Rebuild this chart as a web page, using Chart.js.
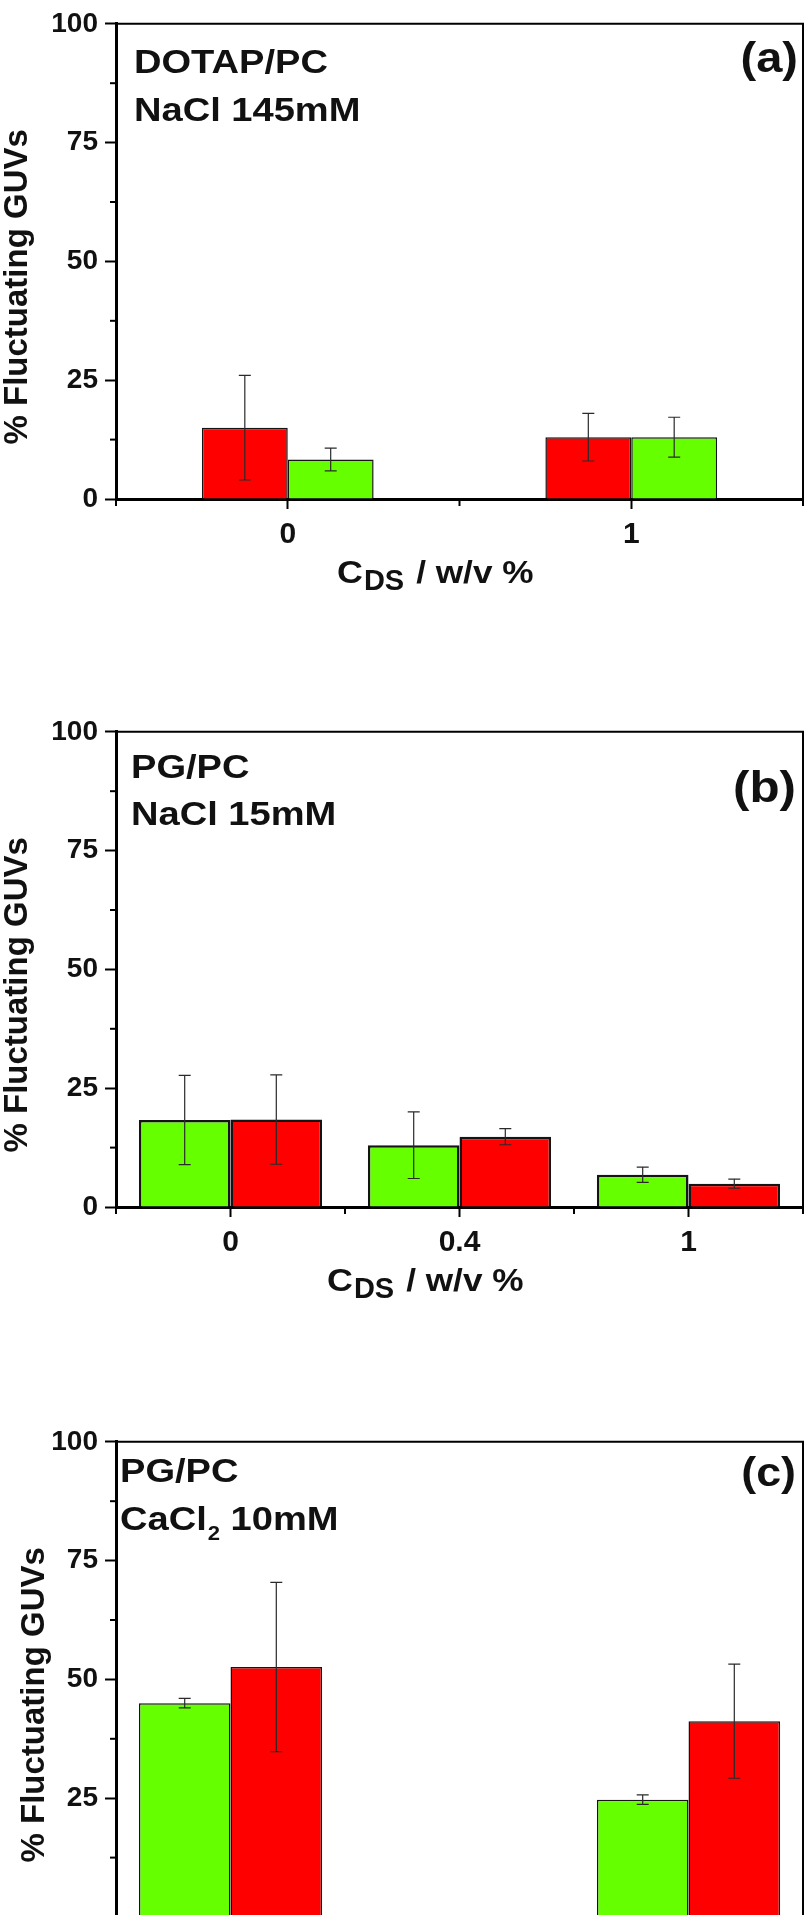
<!DOCTYPE html>
<html>
<head>
<meta charset="utf-8">
<script src="https://cdn.jsdelivr.net/npm/chart.js@4.4.1/dist/chart.umd.min.js"></script>
<style>
  html, body { margin: 0; padding: 0; background: #ffffff; }
  #wrap { position: relative; width: 805px; height: 1915px; overflow: hidden; background: #ffffff; }
  canvas { position: absolute; left: 0; }
</style>
</head>
<body>
<div id="wrap">
  <canvas id="panelA" width="805" height="600" style="top:0px"></canvas>
  <canvas id="panelB" width="805" height="600" style="top:708px"></canvas>
  <canvas id="panelC" width="805" height="600" style="top:1418px"></canvas>
</div>
<script>
// ---------------- DATA ----------------
const yTickValues = [0, 25, 50, 75, 100];

// Panel (a): DOTAP/PC, NaCl 145mM
const panelACategories = ['0', '1'];
const panelARed = [15.0, 13.0];
const panelARedErr = [11.0, 5.0];
const panelAGreen = [8.3, 13.0];
const panelAGreenErr = [2.4, 4.2];

// Panel (b): PG/PC, NaCl 15mM
const panelBCategories = ['0', '0.4', '1'];
const panelBGreen = [18.3, 13.0, 6.8];
const panelBGreenErr = [9.4, 7.0, 1.6];
const panelBRed = [18.4, 14.8, 4.9];
const panelBRedErr = [9.4, 1.7, 0.95];

// Panel (c): PG/PC, CaCl2 10mM (picture is cut just at the 0 line)
const panelCCategories = ['0', '0.4', '1'];
const panelCGreen = [45.0, null, 24.7];
const panelCGreenErr = [1.0, null, 1.0];
const panelCRed = [52.6, null, 41.2];
const panelCRedErr = [17.8, null, 12.0];

const RED = '#ff0000';
const GREEN = '#66ff00';
const INK = '#111111';
const FONT = "'Liberation Sans', Arial, Helvetica, sans-serif";

// ---------------- helpers ----------------
function sText(ctx, str, x, y, size, sx, align) {
  ctx.save();
  ctx.font = 'bold ' + size + 'px ' + FONT;
  ctx.fillStyle = INK;
  ctx.textBaseline = 'alphabetic';
  const w = ctx.measureText(str).width * sx;
  let x0 = x;
  if (align === 'right') x0 = x - w;
  else if (align === 'center') x0 = x - w / 2;
  ctx.translate(x0, y);
  ctx.scale(sx, 1);
  ctx.textAlign = 'left';
  ctx.fillText(str, 0, 0);
  ctx.restore();
  return x0 + w;
}

const decorPlugin = {
  id: 'decor',
  afterDraw(chart, args, opts) {
    const ctx = chart.ctx;
    const ca = chart.chartArea;
    const xs = chart.scales.x;
    const ys = chart.scales.y;
    ctx.save();
    // top and right frame
    ctx.strokeStyle = '#000';
    ctx.lineWidth = 2;
    ctx.beginPath();
    ctx.moveTo(ca.left, ca.top);
    ctx.lineTo(ca.right, ca.top);
    ctx.lineTo(ca.right, ca.bottom + 6);
    ctx.stroke();
    // minor y ticks
    ctx.lineWidth = 2;
    [12.5, 37.5, 62.5, 87.5].forEach(v => {
      const py = ys.getPixelForValue(v);
      ctx.beginPath();
      ctx.moveTo(ca.left - 6, py);
      ctx.lineTo(ca.left, py);
      ctx.stroke();
    });
    // x boundary ticks
    const n = chart.data.labels.length;
    const bounds = [ca.left];
    for (let i = 0; i < n - 1; i++) {
      bounds.push((xs.getPixelForTick(i) + xs.getPixelForTick(i + 1)) / 2);
    }
    bounds.push(ca.right);
    bounds.forEach(bx => {
      ctx.beginPath();
      ctx.moveTo(bx, ca.bottom);
      ctx.lineTo(bx, ca.bottom + 7);
      ctx.stroke();
    });
    // error bars
    ctx.strokeStyle = '#2a2a2a';
    ctx.lineWidth = 1.2;
    (opts.errors || []).forEach((errs, d) => {
      const meta = chart.getDatasetMeta(d);
      const vals = chart.data.datasets[d].data;
      meta.data.forEach((bar, i) => {
        const v = vals[i], e = errs[i];
        if (v === null || e === null || e === undefined) return;
        const x = bar.x;
        const yt = ys.getPixelForValue(v + e);
        const yb = ys.getPixelForValue(v - e);
        ctx.beginPath();
        ctx.moveTo(x, yt); ctx.lineTo(x, yb);
        ctx.moveTo(x - 6, yt); ctx.lineTo(x + 6, yt);
        ctx.moveTo(x - 6, yb); ctx.lineTo(x + 6, yb);
        ctx.stroke();
      });
    });
    ctx.restore();

    // annotations
    const T = ca.top;
    const a = opts.ann;
    sText(ctx, a.line1, a.x, T + a.b1, 34, 1.12, 'left');
    if (a.sub) {
      let xe = sText(ctx, a.line2a, a.x, T + a.b2, 34, 1.12, 'left');
      xe = sText(ctx, a.sub, xe + 1, T + a.b2 + 10, 21, 1.05, 'left');
      sText(ctx, a.line2b, xe, T + a.b2, 34, 1.12, 'left');
    } else {
      sText(ctx, a.line2, a.x, T + a.b2, 34, 1.12, 'left');
    }
    sText(ctx, a.tag, a.tagX, T + a.tagB, a.tagSize, 1.12, 'right');

    // y axis title
    ctx.save();
    ctx.font = 'bold 33px ' + FONT;
    ctx.fillStyle = INK;
    ctx.textAlign = 'center';
    ctx.textBaseline = 'alphabetic';
    ctx.translate(opts.yTitleX, T + 263);
    ctx.rotate(-Math.PI / 2);
    ctx.fillText('% Fluctuating GUVs', 0, 0);
    ctx.restore();

    // x axis title: C_DS / w/v %
    if (opts.xTitleX !== null) {
      const by = ca.bottom + 84;
      let xe = sText(ctx, 'C', opts.xTitleX, by, 32, 1.12, 'left');
      xe = sText(ctx, 'DS', xe + 1, by + 7, 29, 1.0, 'left');
      sText(ctx, '/ w/v %', xe + 12, by, 32, 1.1, 'left');
    }
  }
};

function makePanel(id, labels, series, errors, ann, yTitleX, xTitleX, catPct, bw, hideZero) {
  const datasets = series.map(s => ({
    data: s.data,
    backgroundColor: s.color,
    borderColor: '#141414',
    borderWidth: bw,
    barPercentage: 1.0,
    categoryPercentage: catPct
  }));
  new Chart(document.getElementById(id), {
    type: 'bar',
    data: { labels: labels, datasets: datasets },
    options: {
      responsive: false,
      animation: false,
      devicePixelRatio: 1,
      layout: { padding: { top: 16, right: 2, left: 0, bottom: 0 } },
      plugins: {
        legend: { display: false },
        tooltip: { enabled: false },
        decor: { errors: errors, ann: ann, yTitleX: yTitleX, xTitleX: xTitleX }
      },
      scales: {
        x: {
          offset: true,
          grid: { offset: false, drawOnChartArea: false, drawTicks: true, tickLength: 10, tickWidth: 2, tickColor: '#000' },
          border: { display: true, color: '#000', width: 3 },
          ticks: { color: INK, font: { family: FONT, size: 30, weight: 'bold' }, padding: 8, maxRotation: 0, autoSkip: false },
          afterFit(s) { s.height = 101; }
        },
        y: {
          min: 0, max: 100,
          afterBuildTicks(s) { s.ticks = yTickValues.map(v => ({ value: v })); },
          grid: { drawOnChartArea: false, drawTicks: true, tickLength: 11, tickWidth: 2, tickColor: '#000' },
          border: { display: true, color: '#000', width: 3 },
          ticks: {
            color: INK, font: { family: FONT, size: 28, weight: 'bold' }, padding: 7,
            callback(v) { return (hideZero && v === 0) ? '' : String(v); }
          },
          afterFit(s) { s.width = 116; }
        }
      }
    },
    plugins: [decorPlugin]
  });
}

makePanel('panelA', panelACategories,
  [{ data: panelARed, color: RED }, { data: panelAGreen, color: GREEN }],
  [panelARedErr, panelAGreenErr],
  { line1: 'DOTAP/PC', line2: 'NaCl 145mM', x: 134, b1: 49, b2: 97, tag: '(a)', tagX: 798, tagB: 48, tagSize: 42 },
  27, 337, 0.5, 1.5, false);

makePanel('panelB', panelBCategories,
  [{ data: panelBGreen, color: GREEN }, { data: panelBRed, color: RED }],
  [panelBGreenErr, panelBRedErr],
  { line1: 'PG/PC', line2: 'NaCl 15mM', x: 131, b1: 46, b2: 93, tag: '(b)', tagX: 796, tagB: 70, tagSize: 44 },
  27, 327, 0.8, 2.5, false);

makePanel('panelC', panelCCategories,
  [{ data: panelCGreen, color: GREEN }, { data: panelCRed, color: RED }],
  [panelCGreenErr, panelCRedErr],
  { line1: 'PG/PC', sub: '2', line2a: 'CaCl', line2b: ' 10mM', x: 120, b1: 40, b2: 88, tag: '(c)', tagX: 796, tagB: 44, tagSize: 40 },
  44, null, 0.8, 1.5, true);
</script>
</body>
</html>
